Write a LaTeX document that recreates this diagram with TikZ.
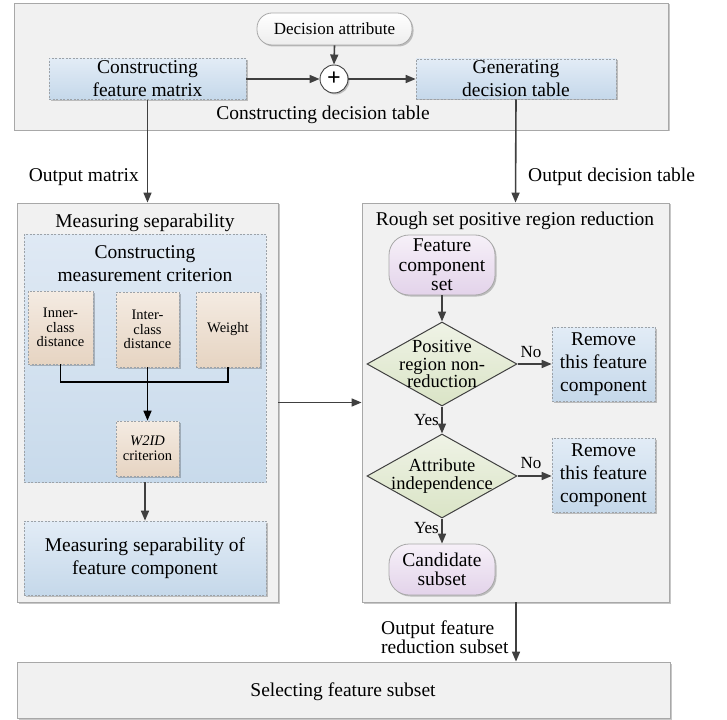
\documentclass[tikz,border=0pt]{standalone}
\usepackage{fontspec}
\setmainfont{Liberation Serif}
\usetikzlibrary{arrows.meta,shadows,shapes.geometric}
\definecolor{panelfill}{HTML}{F1F1F1}
\definecolor{panelline}{HTML}{A8A8A8}
\definecolor{bluetop}{HTML}{E2ECF6}
\definecolor{bluebot}{HTML}{C5D8EA}
\definecolor{crittop}{HTML}{DFE9F4}
\definecolor{critbot}{HTML}{C8DAEB}
\definecolor{beigetop}{HTML}{F4EBE2}
\definecolor{beigebot}{HTML}{E6D4C2}
\definecolor{purptop}{HTML}{F6F0F8}
\definecolor{purpbot}{HTML}{E3D3EA}
\definecolor{greentop}{HTML}{EFF3E6}
\definecolor{greenbot}{HTML}{DAE4C6}
\definecolor{dashline}{HTML}{9CA2A8}
\definecolor{arrowc}{HTML}{404040}
\definecolor{pilltop}{HTML}{FFFFFF}
\definecolor{pillbot}{HTML}{EDEDED}
\tikzset{
  big/.style={font=\fontsize{19.5}{23}\selectfont},
  shad/.style={drop shadow={shadow xshift=1.5pt,shadow yshift=-1.5pt,opacity=0.22,fill=black}},
  panel/.style={rectangle,draw=panelline,fill=panelfill,line width=0.8pt,shad,inner sep=0pt},
  bluebox/.style={rectangle,draw=dashline,dash pattern=on 2pt off 1.5pt,line width=0.7pt,top color=bluetop,bottom color=bluebot,shad,inner sep=0pt,align=center,big},
  critbox/.style={rectangle,draw=dashline,dash pattern=on 2pt off 1.5pt,line width=0.7pt,top color=crittop,bottom color=critbot,inner sep=0pt},
  beigebox/.style={rectangle,draw=dashline,dash pattern=on 2pt off 1.5pt,line width=0.7pt,top color=beigetop,bottom color=beigebot,shad,inner sep=0pt,align=center,font=\fontsize{14.5}{14.5}\selectfont},
  purppill/.style={rectangle,rounded corners=20pt,draw=panelline,line width=0.8pt,top color=purptop,bottom color=purpbot,shad,inner sep=0pt,align=center,font=\fontsize{19.5}{19.5}\selectfont},
  decision/.style={diamond,draw=arrowc,line width=1pt,top color=greentop,bottom color=greenbot,inner sep=0pt,minimum width=150pt,minimum height=84pt},
  dtext/.style={align=center,inner sep=0pt,font=\fontsize{18.5}{17.5}\selectfont},
  lab/.style={inner sep=0pt,big},
  arr/.style={draw=arrowc,line width=1.6pt,-{Triangle[length=10pt,width=8pt]}},
}
\begin{document}
\begin{tikzpicture}[x=1pt,y=-1pt]
\useasboundingbox (0,0) rectangle (727,719);
% top panel
\node[panel,minimum width=654pt,minimum height=127pt] (topbox) at (341,66.5) {};
\node[rectangle,rounded corners=15pt,draw=panelline,line width=0.8pt,top color=pilltop,bottom color=pillbot,shad,minimum width=155pt,minimum height=32pt,inner sep=0pt,font=\fontsize{17}{20}\selectfont] (dec) at (334.5,29) {Decision attribute};
\node[circle,draw=arrowc,line width=0.9pt,fill=white,shad,minimum size=28pt,inner sep=0pt,font=\fontsize{24}{24}\selectfont\bfseries] (plus) at (334,79) {+};
\node[bluebox,minimum width=197pt,minimum height=41pt] (feat) at (147.5,79) {Constructing\\feature matrix};
\node[bluebox,minimum width=200pt,minimum height=40pt] (gen) at (516,79) {Generating\\decision table};
\node[lab] (toplab) at (323,115) {Constructing decision table};
\draw[arr] (feat.east) -- (plus.west);
\draw[arr] (dec.south) -- (plus.north);
\draw[arr] (plus.east) -- (gen.west);
% panels
\node[panel,minimum width=261pt,minimum height=399pt] (lpanel) at (147.5,402.5) {};
\node[panel,minimum width=307pt,minimum height=399pt] (rpanel) at (515.5,402.5) {};
\node[panel,minimum width=653pt,minimum height=56pt] (bottom) at (343.5,690) {};
\node[lab] (botlab) at (343,692) {Selecting feature subset};
\draw[arr] (feat.south) -- (lpanel.north);
\draw[arr] (gen.south) -- (rpanel.north);
\node[lab,anchor=east] (omat) at (139,177) {Output matrix};
\node[lab,anchor=west] (odt) at (528,177) {Output decision table};
% left panel
\node[lab] (ltitle) at (145,223) {Measuring separability};
\node[critbox,minimum width=242pt,minimum height=248pt] (crit) at (145,358) {};
\node[lab,align=center] (crittitle) at (145,263.5) {Constructing\\measurement criterion};
\node[beigebox,minimum width=65pt,minimum height=73pt] (inner) at (60.5,327.5) {Inner-\\class\\distance};
\node[beigebox,minimum width=63pt,minimum height=75pt] (inter) at (147.5,329.5) {Inter-\\class\\distance};
\node[beigebox,minimum width=64pt,minimum height=75pt] (weight) at (228,329.5) {Weight};
\node[beigebox,minimum width=63pt,minimum height=55pt] (w2id) at (147.5,448.5) {\textit{W2ID}\\criterion};
\coordinate (j) at (147.5,382);
\draw[line width=1.4pt,black] (inner.south) |- (j) -| (weight.south);
\draw[line width=1.6pt,black,-{Triangle[length=10pt,width=8pt]}] (inter.south) -- (w2id.north);
\node[bluebox,minimum width=242pt,minimum height=74pt] (meas) at (145,558) {Measuring separability of\\feature component};
\draw[arr] (crit.south) -- (meas.north);
\draw[arr] (lpanel.east) -- (rpanel.west);
% right panel
\node[lab] (rtitle) at (515,221) {Rough set positive region reduction};
\node[purppill,minimum width=106pt,minimum height=60pt] (fcs) at (442,265) {Feature\\component\\set};
\node[decision] (d1) at (442,364) {};
\node[dtext] (d1t) at (442,364) {Positive\\region non-\\reduction};
\node[bluebox,minimum width=103pt,minimum height=74pt,font=\fontsize{19.5}{23.3}\selectfont] (r1) at (603.5,364) {Remove\\this feature\\component};
\node[decision] (d2) at (442,476) {};
\node[dtext] (d2t) at (442,476) {Attribute\\independence};
\node[bluebox,minimum width=103pt,minimum height=74pt,font=\fontsize{19.5}{23.3}\selectfont] (r2) at (603.5,475) {Remove\\this feature\\component};
\node[purppill,minimum width=106pt,minimum height=51pt] (cand) at (442,569.5) {Candidate\\subset};
\draw[arr] (fcs.south) -- (d1.north);
\draw[arr] (d1.east) -- (d1.east -| r1.west);
\draw[arr] (d1.south) -- (d2.north);
\draw[arr] (d2.east) -- (d2.east -| r2.west);
\draw[arr] (d2.south) -- (cand.north);
\node[inner sep=0pt,font=\fontsize{17}{17}\selectfont] (no1) at (531,352) {No};
\node[inner sep=0pt,font=\fontsize{17}{17}\selectfont] (no2) at (531,463) {No};
\node[inner sep=0pt,anchor=east,font=\fontsize{17}{17}\selectfont] (yes1) at (439,420) {Yes};
\node[inner sep=0pt,anchor=east,font=\fontsize{17}{17}\selectfont] (yes2) at (439,528) {Yes};
% bottom
\draw[arr] (rpanel.south -| 516,0) -- (bottom.north -| 516,0);
\node[inner sep=0pt,anchor=west,align=left,font=\fontsize{19.5}{19}\selectfont] (ofr) at (381,637.5) {Output feature\\reduction subset};
\end{tikzpicture}
\end{document}
